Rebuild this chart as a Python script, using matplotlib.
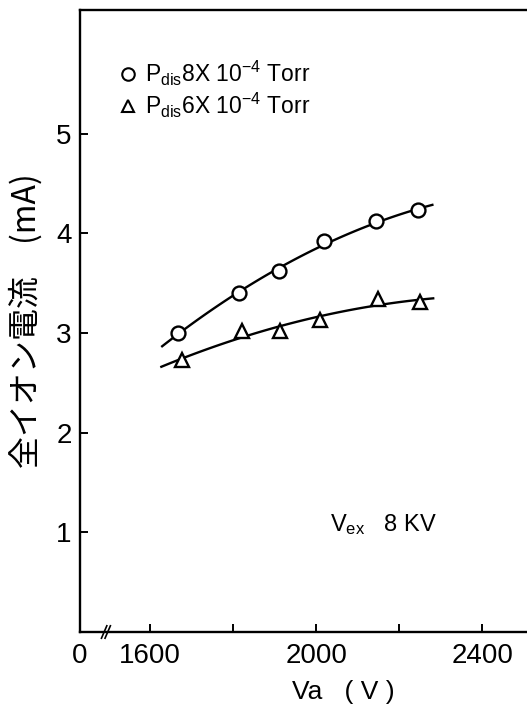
import matplotlib
matplotlib.use("Agg")
import matplotlib.pyplot as plt
import numpy as np

plt.rcParams['font.family'] = ['Liberation Sans', 'Noto Sans CJK JP', 'DejaVu Sans']
plt.rcParams['mathtext.fontset'] = 'custom'
plt.rcParams['mathtext.rm'] = 'Liberation Sans'
plt.rcParams['mathtext.it'] = 'Liberation Sans'

# anode voltage Va (V) and total ion current (mA)
va_8 = [1667, 1814, 1911, 2019, 2145, 2246]
cur_8 = [3.00, 3.40, 3.62, 3.92, 4.12, 4.23]
va_6 = [1677, 1822, 1913, 2010, 2149, 2251]
cur_6 = [2.73, 3.02, 3.02, 3.13, 3.34, 3.31]
fit_range_8 = (1629, 2280)
fit_range_6 = (1627, 2282)

xticks = [1431, 1600, 1800, 2000, 2200, 2400]
xticklabels = ['0', '1600', '', '2000', '', '2400']
yticks = [1, 2, 3, 4, 5]

fig = plt.figure(figsize=(5.27, 7.08), dpi=100)
ax = fig.add_axes([80 / 527, 76 / 708, 447 / 527, 622 / 708])

def smooth(xs, ys, rng):
    c = np.polyfit(xs, ys, 2)
    xx = np.linspace(rng[0], rng[1], 100)
    return xx, np.polyval(c, xx)

xx, yy = smooth(va_8, cur_8, fit_range_8)
ax.plot(xx, yy, color='black', lw=1.7)
xx, yy = smooth(va_6, cur_6, fit_range_6)
ax.plot(xx, yy, color='black', lw=1.7)

h1, = ax.plot(va_8, cur_8, 'o', ms=10, mfc='white', mec='black', mew=1.7)
h2, = ax.plot(va_6, cur_6, '^', ms=10, mfc='white', mec='black', mew=1.7)

ax.set_xlim(1431, 2508)
ax.set_ylim(0, 6.24)
ax.set_xticks(xticks)
ax.set_xticklabels(xticklabels, fontsize=20)
ax.set_yticks(yticks)
ax.set_yticklabels([str(v) for v in yticks], fontsize=20)
ax.tick_params(direction='in', length=6, width=1.4, pad=6)
ax.tick_params(axis='x', pad=8)

ax.spines['right'].set_visible(False)
for s in ['left', 'bottom', 'top']:
    ax.spines[s].set_linewidth(1.7)

# axis break on Va
for dx in (0, 0.008):
    ax.plot([0.048 + dx, 0.060 + dx], [-0.010, 0.010], transform=ax.transAxes,
            color='black', lw=1.2, clip_on=False)

leg = ax.legend([h1, h2],
                [r'$\mathrm{P_{dis}}$8X 10$^{-4}$ Torr', r'$\mathrm{P_{dis}}$6X 10$^{-4}$ Torr'],
                loc='upper left', bbox_to_anchor=(0.04, 0.955), frameon=False,
                fontsize=16.5, handlelength=0.8, handletextpad=0.35, labelspacing=0.15)
for h in leg.legend_handles:
    h.set_markersize(9)
    h.set_markeredgewidth(1.5)

ax.text(0.56, 0.163, r'V$_{\mathrm{ex}}$   8 KV', transform=ax.transAxes, fontsize=17)

ax.set_ylabel('全イオン電流　(mA)', fontsize=23, family=['Noto Sans CJK JP'], labelpad=10)
ax.text(0.59, -0.077, 'Va   ( V )', transform=ax.transAxes, fontsize=19,
        ha='center', va='top')

fig.savefig('out.png', dpi=100)
